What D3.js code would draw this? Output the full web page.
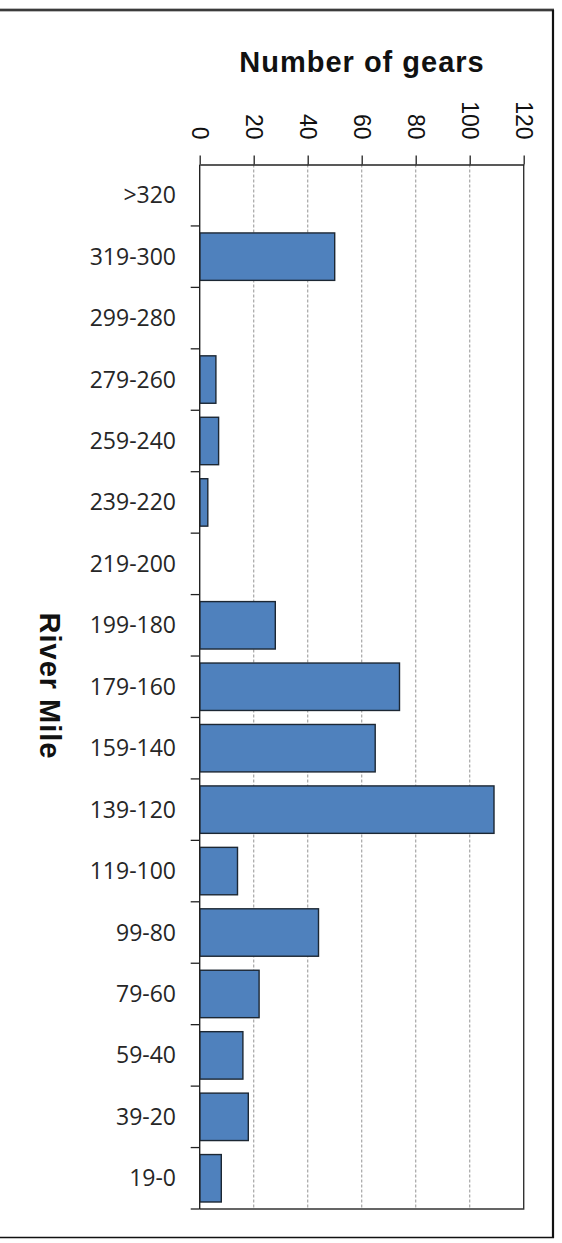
<!DOCTYPE html>
<html>
<head>
<meta charset="utf-8">
<script src="https://cdn.jsdelivr.net/npm/d3@7/dist/d3.min.js"></script>
<style>
  html, body { margin: 0; padding: 0; background: #fff; }
  svg { display: block; }
</style>
</head>
<body>
<svg id="chart" width="562" height="1243"></svg>
<script>
// River-mile bins, upstream to downstream
const riverMiles = [">320", "319-300", "299-280", "279-260", "259-240", "239-220",
  "219-200", "199-180", "179-160", "159-140", "139-120", "119-100", "99-80",
  "79-60", "59-40", "39-20", "19-0"];
// Number of gears set in each bin
const gearCounts = [0, 50, 0, 6, 7, 3, 0, 28, 74, 65, 109, 14, 44, 22, 16, 18, 8];
const xTicks = [0, 20, 40, 60, 80, 100, 120];

const svg = d3.select("#chart");

const plot = { left: 199.7, right: 523.7, top: 164.5, bottom: 1209 };

const x = d3.scaleLinear().domain([0, 120]).range([plot.left, plot.right]);
const y = d3.scaleBand().domain(riverMiles).range([plot.top, plot.bottom])
  .paddingInner(0.228).paddingOuter(0.114);

// outer frame
svg.append("line").attr("x1", 0).attr("x2", 554).attr("y1", 10).attr("y2", 10)
  .attr("stroke", "#bbb").attr("stroke-width", 4);
svg.append("line").attr("x1", 0).attr("x2", 554).attr("y1", 10).attr("y2", 10)
  .attr("stroke", "#111").attr("stroke-width", 1.6);
svg.append("line").attr("x1", 553).attr("x2", 553).attr("y1", 10).attr("y2", 1238)
  .attr("stroke", "#111").attr("stroke-width", 2.2);
svg.append("line").attr("x1", 0).attr("x2", 554).attr("y1", 1237.5).attr("y2", 1237.5)
  .attr("stroke", "#111").attr("stroke-width", 1.6);

// dashed vertical gridlines
svg.append("g").selectAll("line")
  .data(xTicks.filter(d => d > 0 && d < 120))
  .join("line")
  .attr("x1", d => x(d)).attr("x2", d => x(d))
  .attr("y1", plot.top).attr("y2", plot.bottom)
  .attr("stroke", "#a6a6a6").attr("stroke-width", 1.2)
  .attr("stroke-dasharray", "3,2");

// bars
svg.append("g").selectAll("rect")
  .data(riverMiles.map((m, i) => ({ m, v: gearCounts[i] })).filter(d => d.v > 0))
  .join("rect")
  .attr("x", x(0))
  .attr("y", d => y(d.m))
  .attr("width", d => x(d.v) - x(0))
  .attr("height", y.bandwidth())
  .attr("fill", "#4f81bd")
  .attr("stroke", "#1c2733")
  .attr("stroke-width", 1.4);

// plot frame: right and bottom edges
svg.append("path")
  .attr("d", `M${plot.right},${plot.top}V${plot.bottom}H${plot.left}`)
  .attr("fill", "none").attr("stroke", "#333").attr("stroke-width", 1.4);

// top value axis
const xAxis = svg.append("g")
  .attr("transform", `translate(0,${plot.top})`)
  .call(d3.axisTop(x).tickValues(xTicks).tickSize(9).tickSizeOuter(0).tickFormat(d3.format("d")));
xAxis.select(".domain").attr("stroke", "#222").attr("stroke-width", 1.4);
xAxis.selectAll(".tick line").attr("stroke", "#222").attr("stroke-width", 1.3);
xAxis.selectAll(".tick text")
  .attr("font-family", "Liberation Sans, Arial, sans-serif")
  .attr("font-size", 23)
  .attr("fill", "#111")
  .attr("transform", "translate(0,-25) rotate(90)")
  .attr("x", 0).attr("y", 0).attr("dy", "0.35em")
  .attr("text-anchor", "end");

// left category axis: boundary ticks between bins
const step = y.step();
const boundaries = d3.range(riverMiles.length + 1).map(i => plot.top + i * step);
svg.append("g").selectAll("line")
  .data(boundaries.slice(1))
  .join("line")
  .attr("x1", plot.left - 9).attr("x2", plot.left)
  .attr("y1", d => d).attr("y2", d => d)
  .attr("stroke", "#222").attr("stroke-width", 1.3);
svg.append("line")
  .attr("x1", plot.left).attr("x2", plot.left)
  .attr("y1", plot.top).attr("y2", plot.bottom)
  .attr("stroke", "#222").attr("stroke-width", 1.4);

svg.append("g").selectAll("text")
  .data(riverMiles)
  .join("text")
  .attr("x", 176)
  .attr("y", d => y(d) + y.bandwidth() / 2)
  .attr("dy", "0.35em")
  .attr("text-anchor", "end")
  .attr("font-family", "Open Sans, sans-serif")
  .attr("font-size", 23)
  .attr("fill", "#262626")
  .text(d => d);

// axis titles
svg.append("text")
  .attr("x", 362).attr("y", 72)
  .attr("text-anchor", "middle")
  .attr("font-family", "Liberation Sans, Arial, sans-serif")
  .attr("font-weight", "bold")
  .attr("font-size", 29)
  .attr("letter-spacing", 1)
  .attr("fill", "#111")
  .text("Number of gears");

svg.append("text")
  .attr("transform", "translate(40,686) rotate(90)")
  .attr("text-anchor", "middle")
  .attr("font-family", "Liberation Sans, Arial, sans-serif")
  .attr("font-weight", "bold")
  .attr("font-size", 29)
  .attr("letter-spacing", 1)
  .attr("fill", "#111")
  .text("River Mile");
</script>
</body>
</html>
